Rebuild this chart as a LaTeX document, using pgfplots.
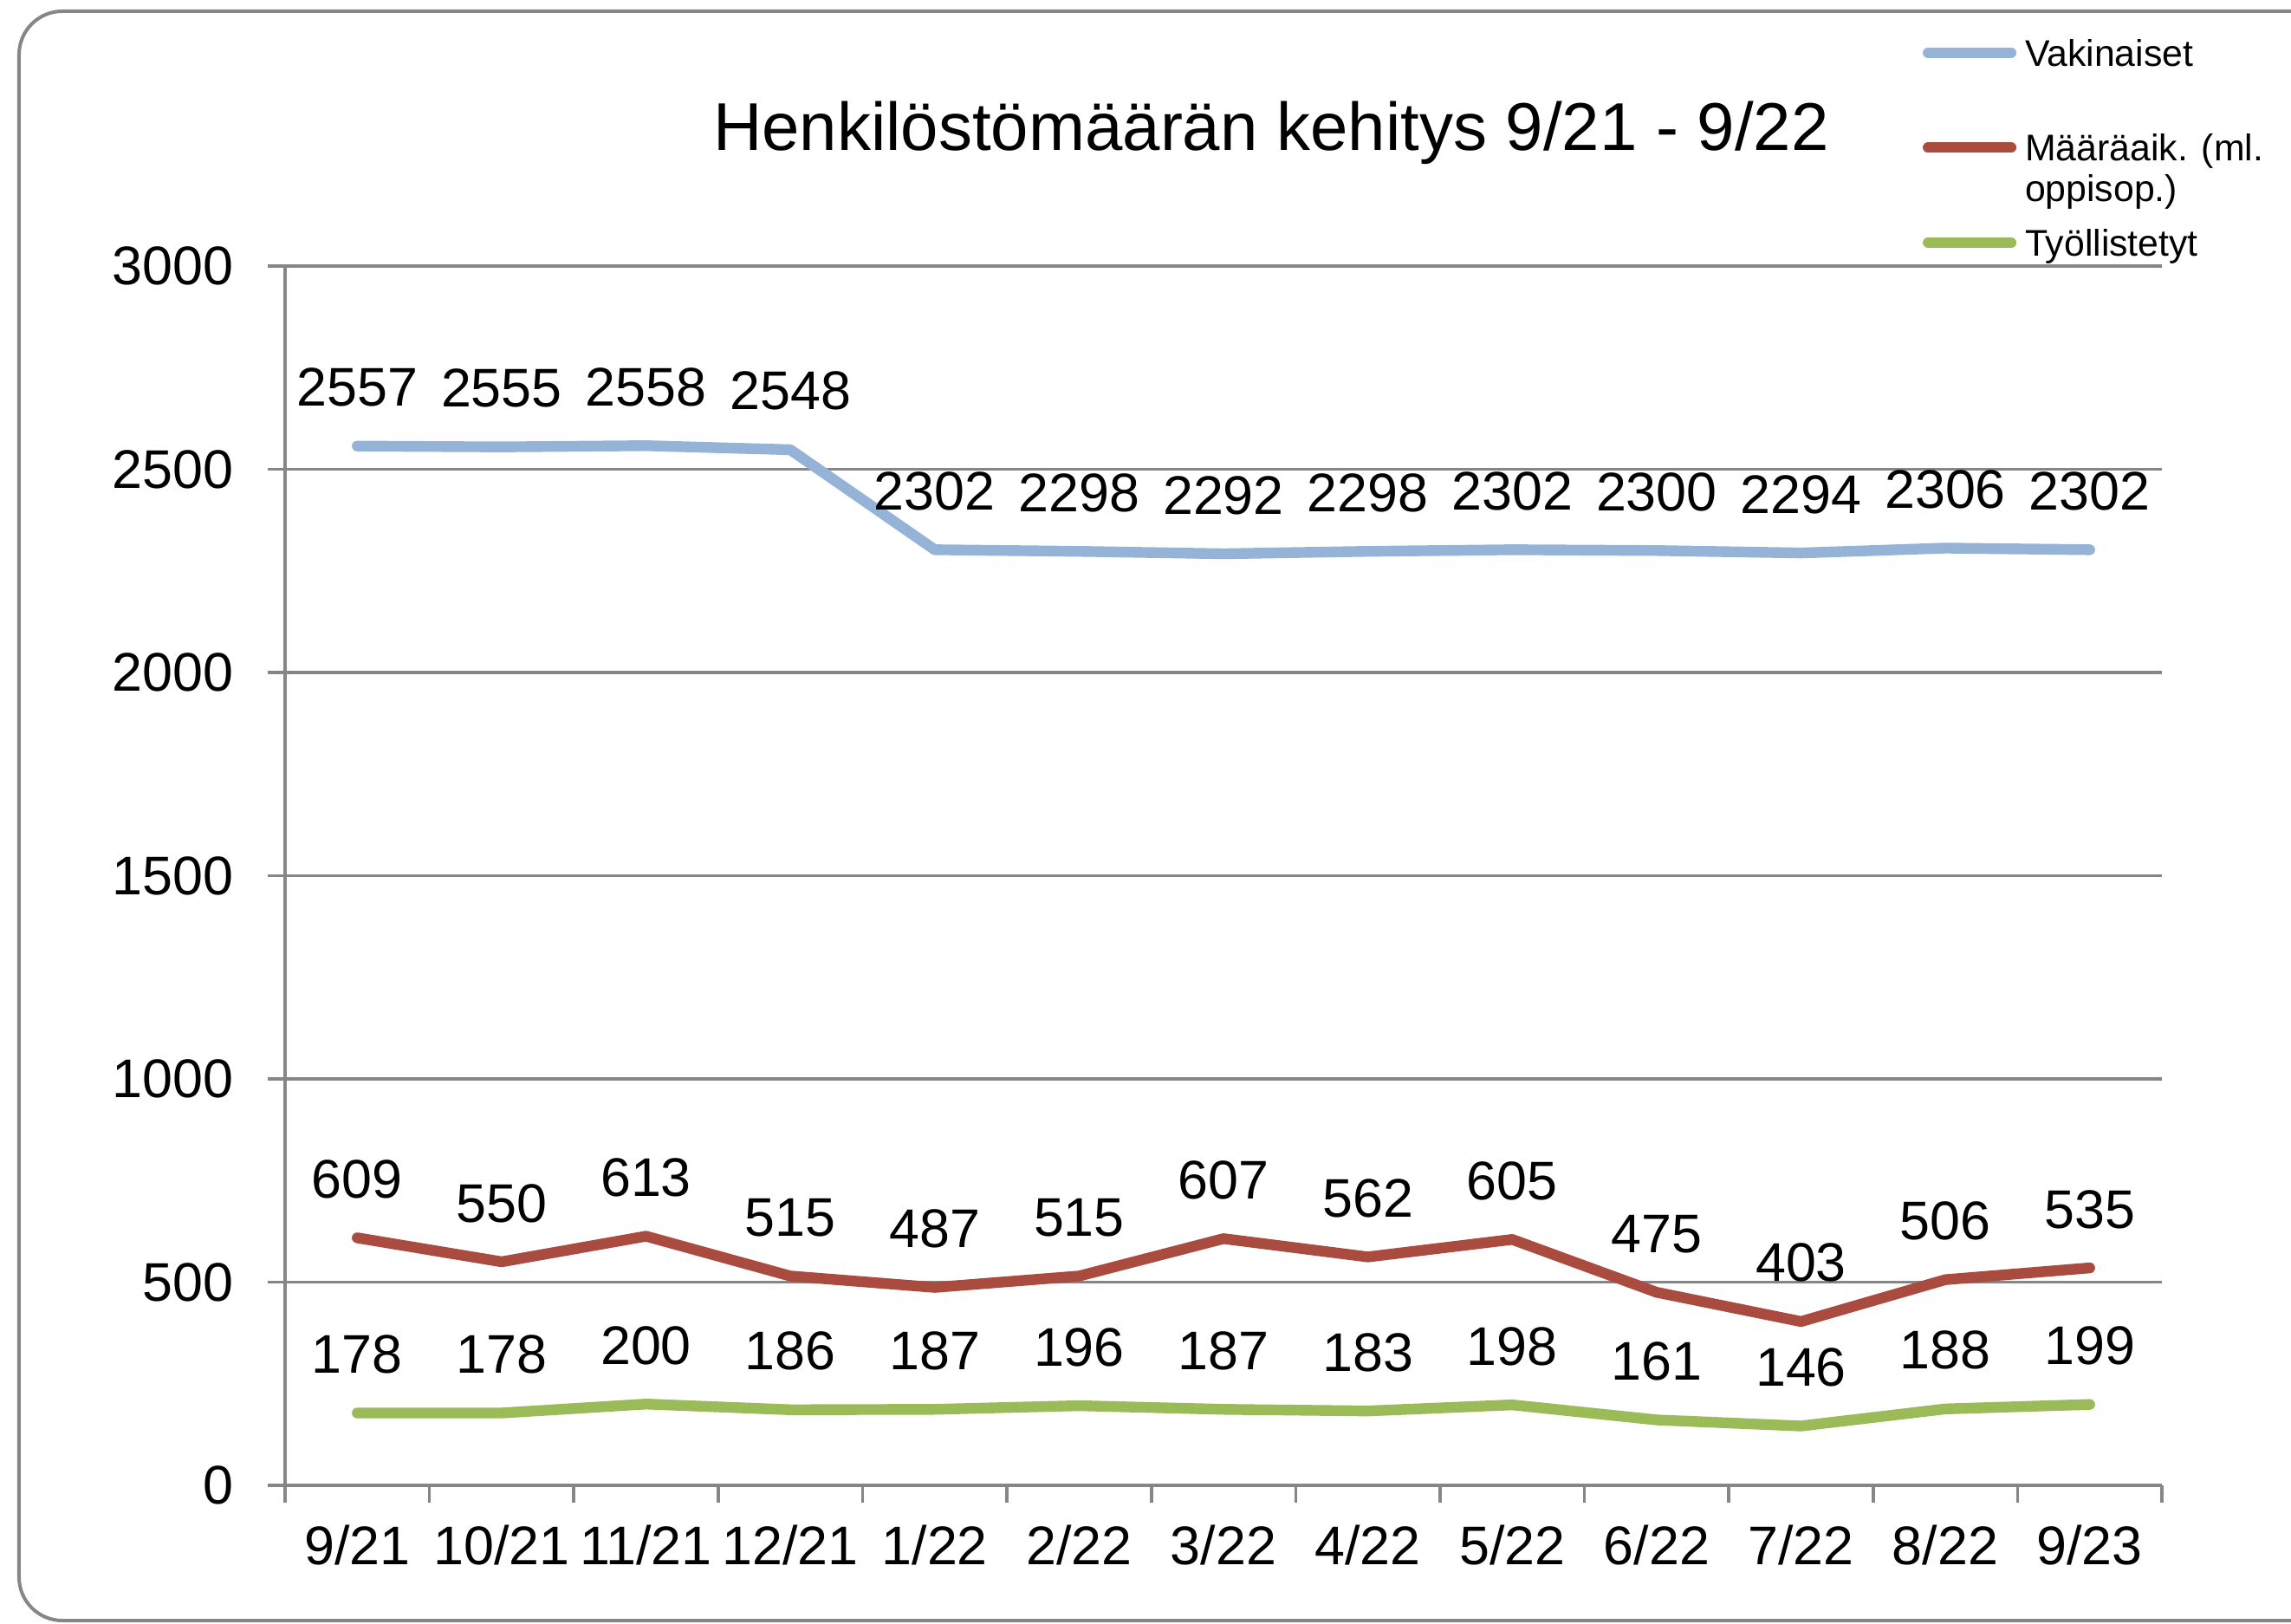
\documentclass[border=0pt]{standalone}
\usepackage{pgfplots}
\pgfplotsset{compat=1.18}
\usepackage{fontspec}
\setmainfont{Liberation Sans}
\definecolor{vblue}{RGB}{149,179,215}
\definecolor{vred}{RGB}{170,75,64}
\definecolor{vgreen}{RGB}{155,187,89}
\definecolor{axgray}{RGB}{134,134,134}
\newcommand{\tickfont}{\fontsize{15.7bp}{18bp}\selectfont}
\begin{document}
\begin{tikzpicture}
\draw[axgray, line width=1bp, rounded corners=12.5bp] (-76.75bp,-39bp) rectangle (592bp,425.25bp);
\begin{axis}[
  at={(0,0)}, anchor=south west,
  scale only axis, width=541.5bp, height=351.75bp,
  xmin=-0.5, xmax=12.5, ymin=0, ymax=3000,
  clip=false,
  axis x line*=bottom, axis y line*=left,
  axis line style={draw=axgray, line width=1bp},
  xtick={-0.5,0.5,...,12.5}, xticklabels={},
  extra x ticks={0,1,2,3,4,5,6,7,8,9,10,11,12},
  extra x tick labels={9/21,10/21,11/21,12/21,1/22,2/22,3/22,4/22,5/22,6/22,7/22,8/22,9/23},
  extra x tick style={major tick length=0pt, grid=none},
  ytick={0,500,...,3000},
  ymajorgrids, grid style={draw=axgray, line width=0.9bp},
  tick align=outside, major tick length=5bp,
  tick style={draw=axgray, line width=0.9bp},
  tick label style={font=\tickfont, text=black},
  yticklabel style={inner sep=0pt, anchor=east, xshift=-9.7bp},
  xticklabel style={inner sep=0pt, anchor=north, yshift=-11.4bp},
  /pgf/number format/.cd, 1000 sep={}, assume math mode=true, /pgfplots/.cd,
  title={Henkilöstömäärän kehitys 9/21 - 9/22},
  title style={at={(0.5254,1)}, anchor=base, yshift=27.5bp, inner sep=0pt, font=\fontsize{19.5bp}{22bp}\selectfont},
  nodes near coords,
  every node near coord/.append style={font=\tickfont, text=black, anchor=base, yshift=11.5bp, inner sep=0pt},
  legend style={draw=none, fill=none, inner sep=0pt, outer sep=0pt,
    at={(0.8726,1.1926)}, anchor=north west,
    font=\fontsize{10.7bp}{11.75bp}\selectfont,
    row sep=14.4bp, column sep=2.5bp,
    cells={anchor=base west},
    nodes={inner sep=0pt, text height=10bp, text depth=3bp, anchor=base west}},
  legend image code/.code={\draw[#1, line width=3bp, line cap=round] (1.5bp,3.8bp) -- (25.5bp,3.8bp);},
]
\addplot[vblue, line width=3.1bp, line cap=round, line join=round] coordinates {
(0,2557) (1,2555) (2,2558) (3,2548) (4,2302) (5,2298) (6,2292) (7,2298) (8,2302) (9,2300) (10,2294) (11,2306) (12,2302)};
\addlegendentry{Vakinaiset}
\addplot[vred, line width=3.1bp, line cap=round, line join=round] coordinates {
(0,609) (1,550) (2,613) (3,515) (4,487) (5,515) (6,607) (7,562) (8,605) (9,475) (10,403) (11,506) (12,535)};
\addlegendentry{\begin{tabular}[t]{@{}l@{}}Määräaik. (ml.\\oppisop.)\end{tabular}}
\addplot[vgreen, line width=3.1bp, line cap=round, line join=round] coordinates {
(0,178) (1,178) (2,200) (3,186) (4,187) (5,196) (6,187) (7,183) (8,198) (9,161) (10,146) (11,188) (12,199)};
\addlegendentry{Työllistetyt}
\end{axis}
\pgfresetboundingbox
\path[use as bounding box] (-82.25bp,-40bp) rectangle (578.75bp,428.5bp);
\end{tikzpicture}
\end{document}
